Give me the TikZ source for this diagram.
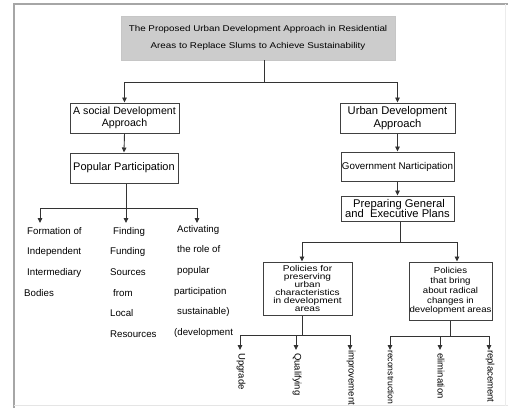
\documentclass[tikz,border=0pt]{standalone}
\usepackage{fontspec}
\setmainfont{Liberation Sans}
\newfontfamily\titlef[FakeStretch=1.17]{Liberation Sans}
\newfontfamily\polf[FakeStretch=1.2]{Liberation Sans}
\newfontfamily\polgf[FakeStretch=1.12]{Liberation Sans}
\usetikzlibrary{arrows.meta}
\begin{document}
\begin{tikzpicture}[x=1pt,y=-1pt,
  box/.style={draw=black!75,line width=1pt,inner sep=0pt,align=center},
  conn/.style={draw=black!80,line width=0.9pt},
  arr/.style={conn,-{Triangle[length=5pt,width=4.5pt]}},
  coltext/.style={anchor=north west,inner sep=0pt,align=left,font=\fontsize{9.7}{20.6}\selectfont},
  rot/.style={rotate=-90,anchor=west,inner sep=0pt,font=\fontsize{9.5}{11}\selectfont}]
\useasboundingbox (0,0) rectangle (508,408);
% frame
\draw[gray!70,line width=1.5pt] (14,408) -- (14,4) -- (508,4);
\draw[gray!20,line width=0.8pt] (14,405.5) -- (508,405.5);
\draw[gray!15,line width=0.8pt] (505.5,4) -- (505.5,405.5);
% title
\node[draw=gray!45,fill=gray!40,inner sep=0pt,minimum width=274pt,minimum height=44pt,align=center,
  font=\titlef\fontsize{8.4}{17}\selectfont] (title) at (258,38)
  {The Proposed Urban Development Approach in Residential\\Areas to Replace Slums to Achieve Sustainability};
% level 1
\node[box,minimum width=109pt,minimum height=30pt,font=\fontsize{10.6}{12}\selectfont] (soc) at (124.5,118)
  {A social Development\\Approach};
\node[box,minimum width=115pt,minimum height=30pt,font=\fontsize{11.2}{12.5}\selectfont] (urb) at (397.5,118)
  {Urban Development\\Approach};
\coordinate (j1) at (264,82);
\draw[conn] (title.south -| j1) -- (j1);
\draw[arr] (j1) -| (soc.north);
\draw[arr] (j1) -| (urb.north);
% left branch
\node[box,minimum width=108pt,minimum height=30pt,font=\fontsize{11}{13}\selectfont] (pop) at (124,168)
  {Popular Participation};
\draw[arr] (soc.south) -- (pop.north);
\coordinate (j2) at (126,208);
\coordinate (a1) at (40,223);
\coordinate (a2) at (126,223);
\coordinate (a3) at (197,223);
\draw[conn] (pop.south -| j2) -- (j2);
\draw[arr] (j2) -| (a1);
\draw[arr] (j2) -- (a2);
\draw[arr] (j2) -| (a3);
\node[coltext] (c1) at (27,227) {Formation of\\Independent\\Intermediary\\\hspace*{-3pt}Bodies};
\node[coltext] (c2) at (110,227) {\hspace*{3pt}Finding\\Funding\\Sources\\\hspace*{3pt}from\\Local\\Resources};
\node[coltext] (c3) at (174,225) {\hspace*{3pt}Activating\\\hspace*{3pt}the role of\\\hspace*{3pt}popular\\participation\\\hspace*{3pt}sustainable)\\(development};
% right branch
\node[box,minimum width=113pt,minimum height=29pt,font=\fontsize{9.8}{11}\selectfont] (gov) at (397.5,166.5)
  {Government Narticipation};
\draw[arr] (urb.south) -- (gov.north);
\node[box,minimum width=113pt,minimum height=25pt,font=\fontsize{11.2}{10.5}\selectfont] (prep) at (397.5,208.5)
  {\hspace*{3pt}Preparing General\\and\ \ Executive Plans};
\draw[arr] (gov.south) -- (prep.north);
\coordinate (j3) at (400,242);
\coordinate (b1) at (302,242);
\coordinate (b2) at (457,242);
\draw[conn] (prep.south -| j3) -- (j3);
\node[box,minimum width=89pt,minimum height=53pt,font=\polf\fontsize{8.4}{8}\selectfont] (pa) at (307.5,288.5)
  {Policies for\\preserving\\urban\\characteristics\\in development\\areas};
\node[box,minimum width=83pt,minimum height=58pt,font=\polgf\fontsize{8.6}{9.8}\selectfont] (pb) at (450.5,291)
  {Policies\\that bring\\about radical\\changes in\\development areas};
\draw[arr] (j3) -| (b1) -- (b1 |- pa.north);
\draw[arr] (j3) -| (b2) -- (b2 |- pb.north);
% bottom left
\coordinate (j4) at (302,335);
\coordinate (u1) at (240,350);
\coordinate (u2) at (296,350);
\coordinate (u3) at (350,350);
\draw[conn] (pa.south -| j4) -- (j4);
\draw[conn] (j4) -- (u1 |- j4);
\draw[conn] (j4) -- (u3 |- j4);
\draw[arr] (u1 |- j4) -- (u1);
\draw[arr] (u2 |- j4) -- (u2);
\draw[arr] (u3 |- j4) -- (u3);
\node[rot] (l1) at (241,353) {Upgrade};
\node[rot] (l2) at (297,353) {Qualifying};
\node[rot] (l3) at (351,350) {improvement};
% bottom right
\coordinate (j5) at (450,336);
\coordinate (v1) at (390,350);
\coordinate (v2) at (440,350);
\coordinate (v3) at (489,350);
\draw[conn] (pb.south -| j5) -- (j5);
\draw[conn] (j5) -- (v1 |- j5);
\draw[conn] (j5) -- (v3 |- j5);
\draw[arr] (v1 |- j5) -- (v1);
\draw[arr] (v2 |- j5) -- (v2);
\draw[arr] (v3 |- j5) -- (v3);
\node[rot,font=\fontsize{8.6}{10}\selectfont] (m1) at (391,350) {reconstruction};
\node[rot] (m2) at (441,353) {elimination};
\node[rot] (m3) at (490,350) {replacement};
\end{tikzpicture}
\end{document}
